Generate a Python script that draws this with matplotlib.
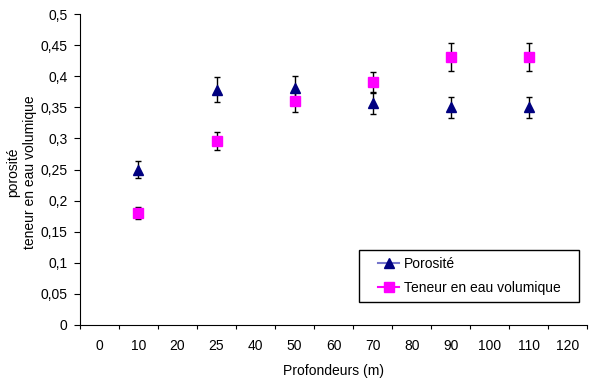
import numpy as np
import matplotlib
matplotlib.use("Agg")
import matplotlib.pyplot as plt
from matplotlib.lines import Line2D
from matplotlib.legend_handler import HandlerLine2D

plt.rcParams['font.family'] = ['Liberation Sans', 'DejaVu Sans']

# categories on the x axis (Excel-style category axis)
categories = ["0", "10", "20", "25", "40", "50", "60", "70", "80", "90", "100", "110", "120"]
depths = ["10", "25", "50", "70", "90", "110"]

porosite = [0.25, 0.378, 0.381, 0.357, 0.35, 0.35]
porosite_err = [0.013, 0.02, 0.02, 0.018, 0.017, 0.017]
teneur = [0.18, 0.296, 0.36, 0.39, 0.431, 0.431]
teneur_err = [0.009, 0.015, 0.017, 0.017, 0.022, 0.022]

xpos = [categories.index(d) for d in depths]

fig = plt.figure(figsize=(5.92, 3.79), dpi=100)
ax = fig.add_axes([0.135, 0.1425, 0.857, 0.8205])

ax.errorbar(xpos, porosite, yerr=porosite_err, fmt='^', color='#000080', ms=7.5,
            ecolor='black', elinewidth=1, capsize=2.5, capthick=1)
ax.errorbar(xpos, teneur, yerr=teneur_err, fmt='s', color='#FF00FF', ms=7,
            ecolor='black', elinewidth=1, capsize=2.5, capthick=1)

ax.set_xlim(-0.5, len(categories) - 0.5)
ax.set_ylim(0, 0.5)
ax.set_xticks(np.arange(-0.5, len(categories), 1.0))
ax.set_xticklabels([])
ax.set_xticks(np.arange(len(categories)), minor=True)
ax.set_xticklabels(categories, minor=True)
ax.tick_params(axis='x', which='minor', length=0, pad=10, labelsize=10)
ax.tick_params(axis='x', which='major', direction='out', length=3)
yt = np.arange(0, 0.51, 0.05)
ax.set_yticks(yt)
ax.set_yticklabels([("%g" % v).replace('.', ',') for v in yt], fontsize=10)
ax.tick_params(axis='y', direction='out', length=4, pad=5)

for s in ['top', 'right']:
    ax.spines[s].set_visible(False)

ax.set_xlabel("Profondeurs (m)", fontsize=10, labelpad=8)
ax.set_ylabel("porosité\nteneur en eau volumique", fontsize=10)
ax.yaxis.set_label_coords(-0.085, 0.49)

handles = [
    Line2D([], [], color='#7777CC', marker='^', mfc='#000080', mec='#000080', ms=6.5),
    Line2D([], [], color='#FF00FF', marker='s', mfc='#FF00FF', mec='#FF00FF', ms=6.5),
]
leg = ax.legend(handles, ["Porosité", "Teneur en eau volumique   "], loc='lower right',
                bbox_to_anchor=(0.984, 0.074), fontsize=10, fancybox=False,
                edgecolor='black', framealpha=1, handlelength=2.35, handletextpad=0.35,
                borderpad=0.5, labelspacing=0.7, borderaxespad=0,
                handler_map={Line2D: HandlerLine2D(xpad=0.85)})
leg.get_frame().set_linewidth(1)

fig.savefig("out.png", dpi=100)
